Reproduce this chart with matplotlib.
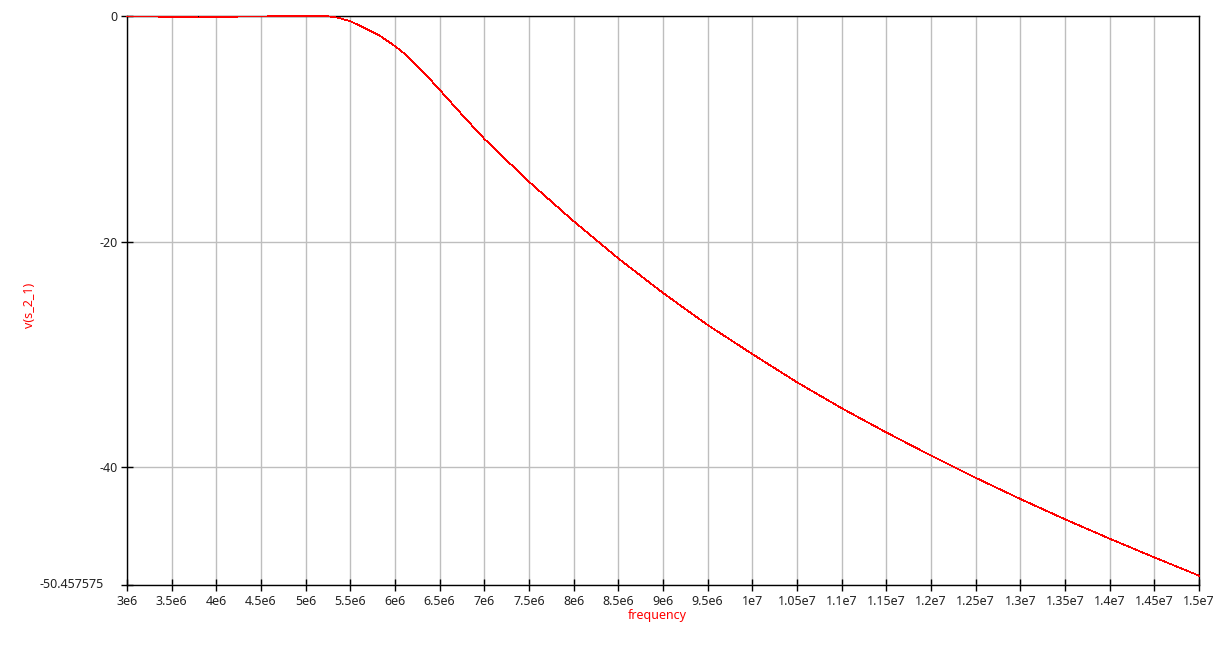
import matplotlib
matplotlib.use("Agg")
import matplotlib.pyplot as plt

plt.rcParams['font.family'] = ['Noto Sans', 'DejaVu Sans']

# values (frequency in Hz, v(s_2_1) in dB)
freq = [3.0e6, 3.35e6, 3.4e6, 3.8e6, 4.2e6, 4.25e6, 4.55e6, 4.6e6, 5.2e6, 5.25e6,
        5.38e6, 5.5e6, 5.645e6, 5.83e6, 6.0e6, 6.13e6, 6.35e6, 6.5e6, 6.75e6, 7.0e6,
        7.5e6, 8.0e6, 8.5e6, 9.0e6, 9.5e6, 1.0e7, 1.05e7, 1.1e7, 1.15e7,
        1.2e7, 1.25e7, 1.3e7, 1.35e7, 1.4e7, 1.45e7, 1.5e7]
s21 = [-0.05, -0.05, -0.1, -0.12, -0.1, -0.05, -0.05, 0.0, 0.0, -0.02,
       -0.18, -0.47, -1.0, -1.75, -2.67, -3.5, -5.25, -6.55, -8.75, -10.9,
       -14.7, -18.2, -21.5, -24.56, -27.4, -29.98, -32.48, -34.78, -36.93,
       -38.98, -40.95, -42.83, -44.63, -46.35, -48.01, -49.63]

x_ticks = [3e6 + 0.5e6 * i for i in range(25)]
x_labels = ['3e6', '3.5e6', '4e6', '4.5e6', '5e6', '5.5e6', '6e6', '6.5e6', '7e6',
            '7.5e6', '8e6', '8.5e6', '9e6', '9.5e6', '1e7', '1.05e7', '1.1e7',
            '1.15e7', '1.2e7', '1.25e7', '1.3e7', '1.35e7', '1.4e7', '1.45e7', '1.5e7']
y_min = -50.457575
y_ticks = [0, -20, -40, y_min]
y_labels = ['0', '-20', '-40', '']

fig = plt.figure(figsize=(12.22, 6.54), dpi=100)
ax = fig.add_axes([127 / 1222, 1 - 585 / 654, 1072 / 1222, 569 / 654])

ax.plot(freq, s21, color='red', lw=0.5, antialiased=False, clip_on=False, zorder=3)

ax.set_xlim(3e6, 1.5e7)
ax.set_ylim(y_min, 0)
ax.set_xticks(x_ticks)
ax.set_xticklabels(x_labels)
ax.set_yticks(y_ticks)
ax.set_yticklabels(y_labels)
ax.tick_params(direction='inout', length=8, width=1, color='black',
               labelsize=9, labelcolor='#222222', pad=3)
ax.grid(True, color='#bebebe', lw=1)
ax.set_axisbelow(True)
for sp in ax.spines.values():
    sp.set_color('black')
    sp.set_linewidth(1)

# the bottom y label sits further left than the others in the reference
ax.text(104 / 1222, 1 - 585 / 654, '-50.457575', transform=fig.transFigure,
        fontsize=9, color='#222222', ha='right', va='center')

fig.text(657 / 1222, 1 - 616 / 654, 'frequency', color='red', fontsize=9,
         ha='center', va='center')
fig.text(30 / 1222, 1 - 305 / 654, 'v(s_2_1)', color='red', fontsize=9,
         ha='center', va='center', rotation=90)

fig.savefig('out.png', dpi=100)
